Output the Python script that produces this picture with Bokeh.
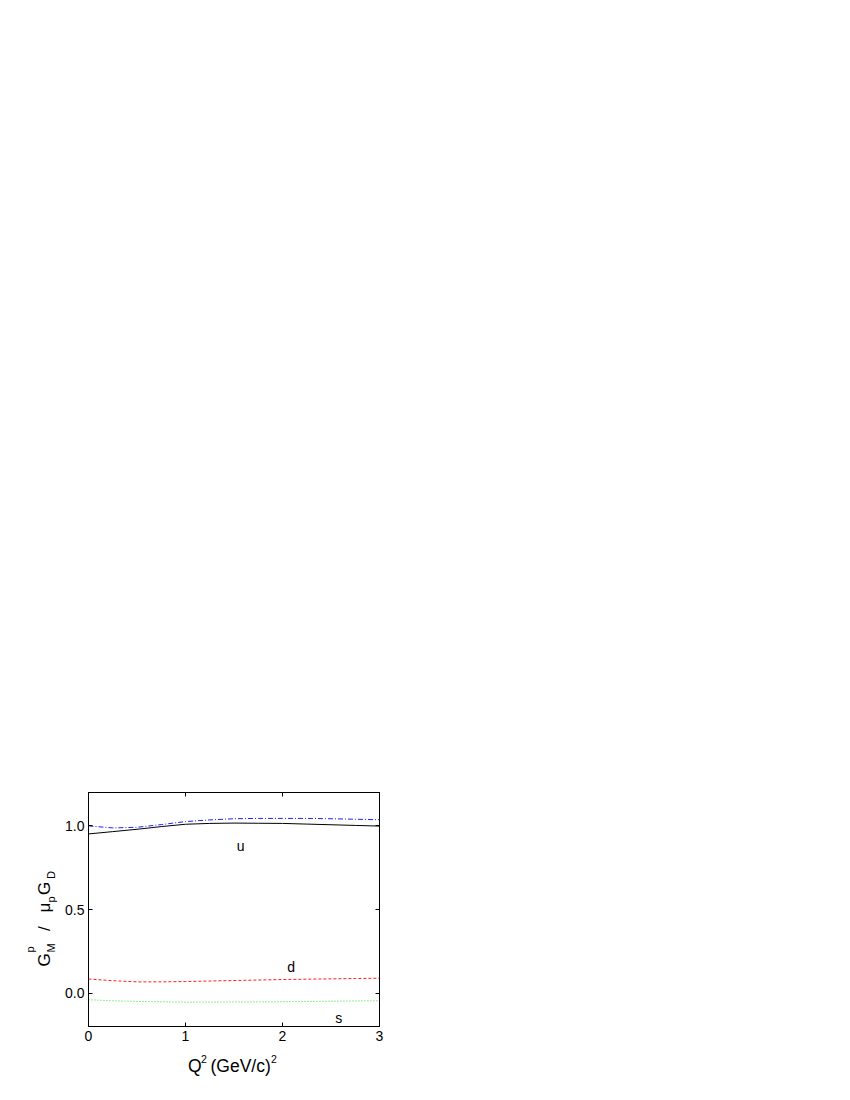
import math
from bokeh.plotting import figure
from bokeh.models import Range1d, LinearAxis, FixedTicker, PrintfTickFormatter, Label
from bokeh.layouts import row, column
from bokeh.embed import file_html
from bokeh.resources import INLINE

# Q^2 grid (GeV/c)^2
q2 = [0.0, 0.25, 0.5, 0.75, 1.0, 1.25, 1.5, 1.75, 2.0, 2.25, 2.5, 2.75, 3.0]

# total (solid) and sum of flavours (dash-dot)
total = [0.952, 0.966, 0.980, 0.996, 1.010, 1.015, 1.017, 1.016, 1.015, 1.011, 1.007, 1.003, 0.999]
flavour_sum = [1.000, 0.988, 0.992, 1.008, 1.026, 1.036, 1.043, 1.045, 1.045, 1.045, 1.043, 1.040, 1.037]
d_quark = [0.084, 0.074, 0.067, 0.067, 0.069, 0.072, 0.075, 0.078, 0.081, 0.083, 0.085, 0.087, 0.089]
s_quark = [-0.040, -0.046, -0.050, -0.052, -0.054, -0.054, -0.053, -0.053, -0.052, -0.050, -0.049, -0.047, -0.046]

x_ticks = [0, 1, 2, 3]
y_ticks = [0.0, 0.5, 1.0]

FONT = "Liberation Sans"

p = figure(frame_width=291, frame_height=234,
           min_border_left=28, min_border_top=792, min_border_bottom=24, min_border_right=30,
           x_range=Range1d(0, 3), y_range=Range1d(-0.2, 1.2),
           output_backend="svg", toolbar_location=None, tools="")

p.xgrid.grid_line_color = None
p.ygrid.grid_line_color = None
p.outline_line_color = "black"
p.outline_line_width = 1
p.background_fill_color = "white"
p.border_fill_color = "white"

p.line(q2, total, line_color="black", line_width=1)
p.line(q2, flavour_sum, line_color="#2020ff", line_width=1, line_dash="5 2 1 2")
p.line(q2, d_quark, line_color="#ff2020", line_width=1, line_dash="3 2")
p.line(q2, s_quark, line_color="#20e020", line_width=1, line_dash="1 2")

# main axes
p.xaxis.ticker = FixedTicker(ticks=x_ticks)
p.yaxis.ticker = FixedTicker(ticks=y_ticks)
p.yaxis.formatter = PrintfTickFormatter(format="%.1f")
for ax in [p.xaxis[0], p.yaxis[0]]:
    ax.major_tick_in = 4
    ax.major_tick_out = 0
    ax.minor_tick_line_color = None
    ax.axis_line_color = "black"
    ax.major_tick_line_color = "black"
    ax.major_label_text_font = FONT
    ax.major_label_text_font_size = "14px"
    ax.major_label_text_color = "black"
    ax.major_label_standoff = 4

# mirrored ticks on top and right
top = LinearAxis(ticker=FixedTicker(ticks=x_ticks), major_tick_in=4, major_tick_out=0,
                 minor_tick_line_color=None, major_label_text_color=None, axis_line_color="black")
right = LinearAxis(ticker=FixedTicker(ticks=y_ticks), major_tick_in=4, major_tick_out=0,
                   minor_tick_line_color=None, major_label_text_color=None, axis_line_color="black")
p.add_layout(top, "above")
p.add_layout(right, "right")

# curve labels
for txt, lx, ly in [("u", 1.568, 0.880), ("d", 2.09, 0.153), ("s", 2.58, -0.149)]:
    p.add_layout(Label(x=lx, y=ly, text=txt, text_font=FONT, text_font_size="14px",
                       text_align="center", text_baseline="alphabetic", text_color="black"))


def blank(w, h, top=0, bottom=0):
    f = figure(frame_width=w, frame_height=h, x_range=Range1d(0, w), y_range=Range1d(0, h),
               min_border=0, min_border_top=top, min_border_bottom=bottom,
               output_backend="svg", toolbar_location=None, tools="",
               x_axis_location=None, y_axis_location=None)
    f.grid.grid_line_color = None
    f.outline_line_color = None
    return f


# y axis title: G_M^p / mu_p G_D (rotated), panel left of the plot, frame matches the plot frame
yfig = blank(60, 234, top=792, bottom=24)
ylab = [("G", 43.5, 60, "17px"), ("M", 50.5, 74, "11px"), ("p", 29.7, 74, "11px"),
        ("/", 43.5, 95.5, "17px"), ("μ", 43.5, 114, "17px"), ("p", 50.5, 124, "11px"),
        ("G", 43.5, 131.5, "17px"), ("D", 50.5, 147.5, "11px")]
for txt, lx, ly, fs in ylab:
    yfig.add_layout(Label(x=lx, y=ly, text=txt, text_font=FONT, text_font_size=fs, angle=math.pi / 2,
                          text_align="left", text_baseline="alphabetic", text_color="black"))

# x axis title: Q^2 (GeV/c)^2, panel below the plot
xfig = blank(409, 40)
for txt, lx, ly, fs in [("Q", 187.5, 25, "17.5px"), ("2", 200.5, 31.8, "10.5px"),
                        ("(GeV/c)", 210, 25, "17.5px"), ("2", 270.5, 31.8, "10.5px")]:
    xfig.add_layout(Label(x=lx, y=ly, text=txt, text_font=FONT, text_font_size=fs,
                          text_align="left", text_baseline="alphabetic", text_color="black"))

layout = column(row(yfig, p), xfig)
open("out.html", "w").write(file_html(layout, INLINE))
